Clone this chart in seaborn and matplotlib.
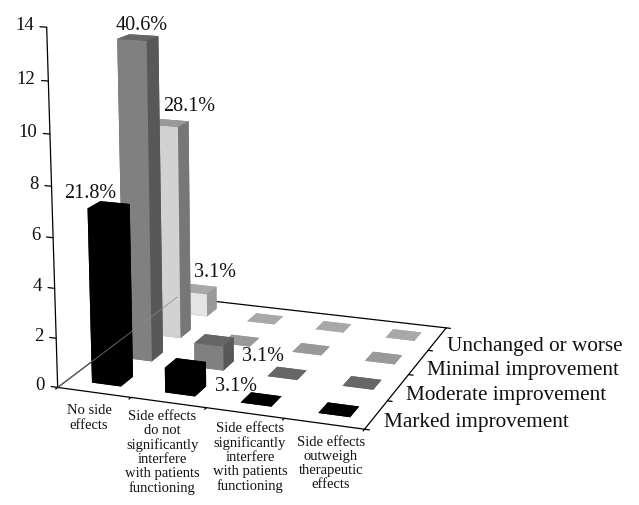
# -*- coding: utf-8 -*-
import pandas as pd
import matplotlib
matplotlib.use('Agg')
import matplotlib.pyplot as plt
from mpl_toolkits.mplot3d import proj3d
import seaborn as sns

sns.set_theme(style='white')
plt.rcParams['font.family'] = ['Liberation Serif', 'DejaVu Serif']

# Data
effects = ['No side\neffects',
           'Side effects\ndo not\nsignificantly\ninterfere\nwith patients\nfunctioning',
           'Side effects\nsignificantly\ninterfere\nwith patients\nfunctioning',
           'Side effects\noutweigh\ntherapeutic\neffects']
responses = ['Marked improvement', 'Moderate improvement',
             'Minimal improvement', 'Unchanged or worse']
marked = [7, 1, 0, 0]
moderate = [13, 1, 0, 0]
minimal = [9, 0, 0, 0]
unchanged = [1, 0, 0, 0]
z_ticks = [0, 2, 4, 6, 8, 10, 12, 14]

# (response, effect, label)
pct_labels = [(0, 0, '21.8%'), (1, 0, '40.6%'), (2, 0, '28.1%'), (3, 0, '3.1%'),
              (1, 1, '3.1%'), (0, 1, '3.1%')]
# label offsets from the bar top, in pixels
pct_offset = [(-21, 13), (1, 12), (17, 17), (14, 17), (46, -16), (48, -21)]
effect_offset = [(-5, -12), (-6, -7), (5, -9), (7, -12)]
response_offset = [8, 8, 9, 10]

df = pd.DataFrame({'Marked': marked, 'Moderate': moderate,
                   'Minimal': minimal, 'Unchanged': unchanged})

# faces in bar3d order: bottom, top, front, back, left, right
front = sns.color_palette(['#000000', '#808080', '#d2d2d2', '#e4e4e4'])
top = sns.color_palette(['#000000', '#666666', '#999999', '#a8a8a8'])
side = sns.color_palette(['#000000', '#585858', '#777777', '#999999'])

fig = plt.figure(figsize=(6.39, 5.05), dpi=100)
ax = fig.add_axes([-0.102, 0.113, 1.0, 1.0], projection='3d', computed_zorder=False)
ax.set_proj_type('persp', focal_length=0.65)
ax.view_init(elev=14.5, azim=-70)
ax.set_box_aspect((345, 335, 392), zoom=1.08)
ax.set_xlim(0, 4, view_margin=0)
ax.set_ylim(0, 4, view_margin=0)
ax.set_zlim(0, 14, view_margin=0)
ax.set_axis_off()


def label3d(x, y, z, txt, dx=0, dy=0, **kw):
    # project the anchor so the text can be placed with a pixel offset
    px, py, _ = proj3d.proj_transform(x, y, z, ax.get_proj())
    ax.annotate(txt, (px, py), xytext=(dx, dy), textcoords='offset pixels',
                annotation_clip=False, color='#111111', **kw)


# floor outline and axes
line = dict(color='black', lw=0.9)
ax.plot([0, 4], [0, 0], [0, 0], zorder=1, **line)
ax.plot([4, 4], [0, 4], [0, 0], zorder=1, **line)
ax.plot([4, 0], [4, 4], [0, 0], zorder=1, **line)
ax.plot([0, 0], [0, 4], [0, 0], zorder=1, **line)
ax.plot([0, 0], [0, 0], [0, 14], zorder=1, **line)

for v in z_ticks:
    ax.plot([-0.09, 0], [0, 0], [v, v], zorder=1, **line)
    label3d(0, 0, v, str(v), dx=-13, dy=2, ha='right', va='center', fontsize=13.5)
for i in range(5):
    ax.plot([i, i], [-0.06, 0], [0, 0], zorder=1, **line)
    ax.plot([4, 4.06], [i, i], [0, 0], zorder=1, **line)

# bars back to front, left to right
z = 10
for r, name in reversed(list(enumerate(df.columns))):
    for c, h in enumerate(df[name]):
        colors = [top[r], top[r], front[r], side[r], side[r], side[r]]
        ax.bar3d(c + 0.33, r + 0.31, 0, 0.4, 0.38, max(h, 0.001), color=colors,
                 shade=False, zorder=z, edgecolor='none', linewidth=0)
        z += 1

# the left floor edge shows faintly through the bars
ax.plot([0, 0], [0, 4], [0, 0], color='#888888', lw=0.5, zorder=z)

for (r, c, txt), (dx, dy) in zip(pct_labels, pct_offset):
    label3d(c + 0.57, r + 0.5, df.iloc[c, r], txt, dx=dx, dy=dy, ha='center', va='center',
            fontsize=14.5, zorder=z + 1)

for c, (name, (dx, dy)) in enumerate(zip(effects, effect_offset)):
    label3d(c + 0.5, 0, 0, name, dx=dx, dy=dy, ha='center', va='top', fontsize=10.5,
            linespacing=1.12)
for r, (name, dx) in enumerate(zip(responses, response_offset)):
    label3d(4, r + 0.5, 0, name, dx=dx, dy=-8, ha='left', va='center', fontsize=15.3)

fig.savefig('out.png', dpi=100)
